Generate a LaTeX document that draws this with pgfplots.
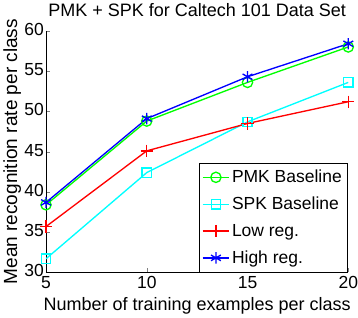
\documentclass[border=0pt]{standalone}
\usepackage{pgfplots}
\pgfplotsset{compat=1.18}
\usepackage{fontspec}
\setmainfont{Liberation Sans}
\definecolor{mgreen}{rgb}{0,1,0}
\definecolor{mcyan}{rgb}{0,1,1}
\definecolor{mred}{rgb}{1,0,0}
\definecolor{mblue}{rgb}{0,0,1}
\begin{document}
\begin{tikzpicture}
\begin{axis}[
  scale only axis,
  width=294pt, height=235pt,
  xmin=5, xmax=20, ymin=30, ymax=60,
  xtick={5,10,15,20}, ytick={30,35,40,45,50,55,60},
  axis x line*=bottom, axis y line*=left,
  axis line style={-, line width=0.6pt},
  /pgf/number format/assume math mode=true,
  tick label style={font=\fontsize{17}{17}\selectfont, inner sep=0pt},
  tick align=inside,
  major tick length=4pt,
  xticklabel style={yshift=-4pt},
  yticklabel style={xshift=-2pt, yshift=1.5pt},
  title={PMK + SPK for Caltech 101 Data Set},
  every axis title/.style={at={(axis description cs:0.5,1)}, anchor=base, yshift=14pt, font=\fontsize{17.5}{17.5}\selectfont},
  xlabel={Number of training examples per class},
  every axis x label/.style={at={(axis description cs:0.5,0)}, anchor=base, yshift=-37pt, font=\fontsize{17.5}{17.5}\selectfont},
  ylabel={Mean recognition rate per class},
  every axis y label/.style={at={(axis description cs:0,0.5)}, xshift=-28pt, rotate=90, anchor=base, font=\fontsize{18.5}{18.5}\selectfont},
  legend style={at={(axis description cs:1,0)}, anchor=south east, xshift=-1pt,
    font=\fontsize{17}{17}\selectfont, draw=black, line width=0.6pt, row sep=8.5pt, inner xsep=3pt, inner ysep=5pt},
  legend cell align=left,
  legend image code/.code={\draw[mark repeat=2,mark phase=2] plot coordinates {(0pt,0pt) (13pt,0pt) (26pt,0pt)};},
  every axis plot/.append style={line width=1.3pt},
]
\addplot[color=mgreen, mark=o, mark size=5pt] coordinates {(5,38.4) (10,48.8) (15,53.6) (20,58.0)};
\addlegendentry{PMK Baseline}
\addplot[color=mcyan, mark=square, mark size=4.5pt] coordinates {(5,31.7) (10,42.4) (15,48.7) (20,53.6)};
\addlegendentry{SPK Baseline}
\addplot[color=mred, mark=+, mark size=6pt] coordinates {(5,35.7) (10,45.1) (15,48.5) (20,51.2)};
\addlegendentry{Low reg.}
\addplot[color=mblue, mark=asterisk, mark size=5.5pt] coordinates {(5,38.7) (10,49.1) (15,54.3) (20,58.4)};
\addlegendentry{High reg.}
\end{axis}
\end{tikzpicture}
\end{document}
